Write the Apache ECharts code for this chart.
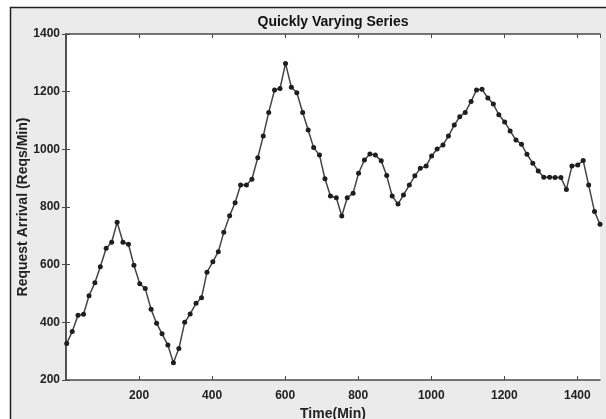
<!DOCTYPE html>
<html>
<head>
<meta charset="utf-8">
<script src="https://cdn.jsdelivr.net/npm/echarts@6/dist/echarts.min.js"></script>
<style>
  html, body { margin: 0; padding: 0; background: #fff; }
  #main { width: 606px; height: 419px; }
</style>
</head>
<body>
<div id="main"></div>
<script>
// time of each sample (minutes)
var timeMin = [
  2, 17, 33, 48, 63, 79, 94, 110, 125, 140, 156, 171, 186, 202, 217, 233,
  248, 263, 279, 294, 309, 325, 340, 356, 371, 386, 402, 417, 432, 448, 463, 478,
  494, 509, 525, 540, 555, 571, 586, 601, 617, 632, 648, 663, 678, 694, 709, 724,
  740, 755, 770, 786, 801, 817, 832, 847, 863, 878, 893, 909, 924, 940, 955, 970,
  986, 1001, 1016, 1032, 1047, 1063, 1078, 1093, 1109, 1124, 1139, 1155, 1170, 1185, 1201, 1216,
  1232, 1247, 1262, 1278, 1293, 1308, 1324, 1339, 1355, 1370, 1385, 1401, 1416, 1431, 1447, 1462
];
// request arrival rate (reqs/min)
var arrivals = [
  327, 368, 425, 428, 492, 537, 593, 657, 678, 747, 678, 671, 598, 534, 517, 445,
  397, 360, 321, 260, 309, 400, 429, 466, 485, 574, 610, 645, 712, 770, 815, 876,
  876, 896, 971, 1046, 1128, 1206, 1211, 1298, 1215, 1196, 1128, 1067, 1006, 980, 898, 838,
  832, 769, 832, 848, 917, 963, 984, 980, 960, 909, 838, 810, 842, 876, 908, 934,
  942, 977, 1001, 1015, 1046, 1084, 1113, 1128, 1166, 1206, 1208, 1178, 1157, 1120, 1095, 1064,
  1032, 1018, 983, 952, 925, 903, 903, 902, 902, 861, 942, 946, 961, 876, 784, 740
];
var xRange = [0, 1462];
var yRange = [200, 1400];

var seriesData = timeMin.map(function (t, i) { return [t, arrivals[i]]; });

var chart = echarts.init(document.getElementById('main'), null, { renderer: 'canvas' });
var font = 'Liberation Sans, Arial, Helvetica, sans-serif';
var axisCol = '#4a4a4a';
var plain = function (v) { return String(v); };

function frameX(pos, showLabel) {
  return {
    type: 'value', position: pos, min: xRange[0], max: xRange[1], interval: 200,
    axisLine: { show: true, lineStyle: { color: axisCol, width: 1.5 } },
    axisTick: { show: true, inside: true, length: 4, lineStyle: { color: axisCol } },
    axisLabel: {
      show: showLabel, showMinLabel: false, showMaxLabel: false, margin: 10, formatter: plain,
      color: '#222', fontWeight: 'bold', fontSize: 12, fontFamily: font
    },
    splitLine: { show: false }
  };
}
function frameY(pos, showLabel) {
  return {
    type: 'value', position: pos, min: yRange[0], max: yRange[1], interval: 200,
    axisLine: { show: true, lineStyle: { color: axisCol, width: 1.5 } },
    axisTick: { show: true, inside: true, length: 4, lineStyle: { color: axisCol } },
    axisLabel: {
      show: showLabel, margin: 6, formatter: plain,
      color: '#222', fontWeight: 'bold', fontSize: 12, fontFamily: font
    },
    splitLine: { show: false }
  };
}

var xBottom = frameX('bottom', true);
xBottom.name = 'Time(Min)';
xBottom.nameLocation = 'middle';
xBottom.nameGap = 27;
xBottom.nameMoveOverlap = false;
xBottom.nameTextStyle = { color: '#222', fontWeight: 'bold', fontSize: 14, fontFamily: font };

var yLeft = frameY('left', true);
yLeft.name = 'Request Arrival (Reqs/Min)';
yLeft.nameLocation = 'middle';
yLeft.nameGap = 36;
yLeft.nameMoveOverlap = false;
yLeft.nameTextStyle = { color: '#222', fontWeight: 'bold', fontSize: 14, fontFamily: font };

var option = {
  backgroundColor: '#fff',
  animation: false,
  graphic: [{
    type: 'rect', z: -10, silent: true,
    shape: { x: 10.5, y: 7.5, width: 620, height: 430 },
    style: { fill: '#ebebeb', stroke: '#222', lineWidth: 1.5 }
  }, {
    type: 'rect', z: -9, silent: true,
    shape: { x: 66, y: 34, width: 534, height: 346 },
    style: { fill: '#fff' }
  }],
  title: {
    text: 'Quickly Varying Series',
    left: 333, top: 15, textAlign: 'center', padding: 0,
    textStyle: { color: '#111', fontWeight: 'bold', fontSize: 14, fontFamily: font }
  },
  grid: { left: 66, right: 6, top: 34, bottom: 39, containLabel: false, outerBoundsMode: 'none' },
  xAxis: [xBottom, frameX('top', false)],
  yAxis: [yLeft, frameY('right', false)],
  series: [{
    type: 'line',
    xAxisIndex: 0, yAxisIndex: 0,
    data: seriesData,
    symbol: 'circle', symbolSize: 5,
    lineStyle: { color: '#444', width: 1.5 },
    itemStyle: { color: '#1e1e1e' }
  }]
};
chart.setOption(option);
</script>
</body>
</html>
